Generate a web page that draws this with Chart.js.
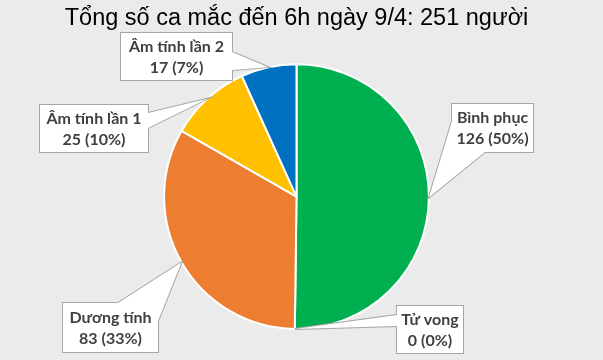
<!DOCTYPE html>
<html>
<head>
<meta charset="utf-8">
<script src="https://cdn.jsdelivr.net/npm/chart.js@4/dist/chart.umd.min.js"></script>
<style>
  html, body { margin: 0; padding: 0; background: #ebebeb; }
  #wrap { width: 603px; height: 360px; }
</style>
</head>
<body>
<div id="wrap"><canvas id="pie-chart"></canvas></div>
<script>
const labels = ["Bình phục", "Tử vong", "Dương tính", "Âm tính lần 1", "Âm tính lần 2"];
const values = [126, 0, 83, 25, 17];
const colors = ["#00b050", "#7f7f7f", "#ed7d31", "#ffc000", "#0070c0"];
const titleText = "Tổng số ca mắc đến 6h ngày 9/4: 251 người";

// callout boxes: [x, y, w, h] and the two base points of the pointer
const callouts = [
  { box: [452, 104, 81, 48], base: [[452, 121], [485, 152]] },
  { box: [397, 306, 66, 47], base: [[397, 315], [397, 326]] },
  { box: [63, 303, 95, 49], base: [[118, 303], [158, 321]] },
  { box: [40, 105, 108, 47], base: [[148, 113], [148, 128]] },
  { box: [121, 33, 111, 47], base: [[232, 52], [232, 70]] },
];

const bgPlugin = {
  id: "bg",
  beforeDraw(chart) {
    const { ctx, width, height } = chart;
    ctx.save();
    ctx.fillStyle = "#ebebeb";
    ctx.fillRect(0, 0, width, height);
    ctx.restore();
  },
};

const calloutPlugin = {
  id: "callouts",
  afterDatasetsDraw(chart) {
    const ctx = chart.ctx;
    const meta = chart.getDatasetMeta(0);
    const total = values.reduce((a, b) => a + b, 0);
    meta.data.forEach((arc, i) => {
      const c = callouts[i];
      const mid = (arc.startAngle + arc.endAngle) / 2;
      const tip = [arc.x + Math.cos(mid) * arc.outerRadius, arc.y + Math.sin(mid) * arc.outerRadius];
      const [bx, by, bw, bh] = c.box;
      ctx.save();
      const tri = () => {
        ctx.beginPath();
        ctx.moveTo(tip[0], tip[1]);
        ctx.lineTo(c.base[0][0], c.base[0][1]);
        ctx.lineTo(c.base[1][0], c.base[1][1]);
        ctx.closePath();
      };
      ctx.strokeStyle = "#a6a6a6";
      ctx.lineWidth = 2;
      tri();
      ctx.stroke();
      ctx.strokeRect(bx, by, bw, bh);
      ctx.fillStyle = "#ffffff";
      ctx.fillRect(bx, by, bw, bh);
      tri();
      ctx.fill();
      ctx.fillStyle = "#404040";
      ctx.font = "bold 16px Lato";
      ctx.textAlign = "center";
      ctx.textBaseline = "middle";
      const pct = Math.round((values[i] / total) * 100);
      ctx.fillText(labels[i], bx + bw / 2, by + bh / 2 - 10);
      ctx.fillText(values[i] + " (" + pct + "%)", bx + bw / 2, by + bh / 2 + 11);
      ctx.restore();
    });
  },
};

new Chart(document.getElementById("pie-chart"), {
  type: "pie",
  data: {
    labels: labels,
    datasets: [
      {
        data: values,
        backgroundColor: colors,
        borderColor: "#ffffff",
        borderWidth: 2,
      },
    ],
  },
  options: {
    responsive: true,
    maintainAspectRatio: false,
    animation: false,
    layout: { padding: { left: 0, right: 10, bottom: 30 } },
    plugins: {
      legend: { display: false },
      tooltip: { enabled: false },
      title: {
        display: true,
        text: titleText,
        color: "#000000",
        font: { family: "Liberation Sans", size: 23.5, weight: "normal" },
        padding: { top: 4, bottom: 31 },
      },
    },
  },
  plugins: [bgPlugin, calloutPlugin],
});
</script>
</body>
</html>
